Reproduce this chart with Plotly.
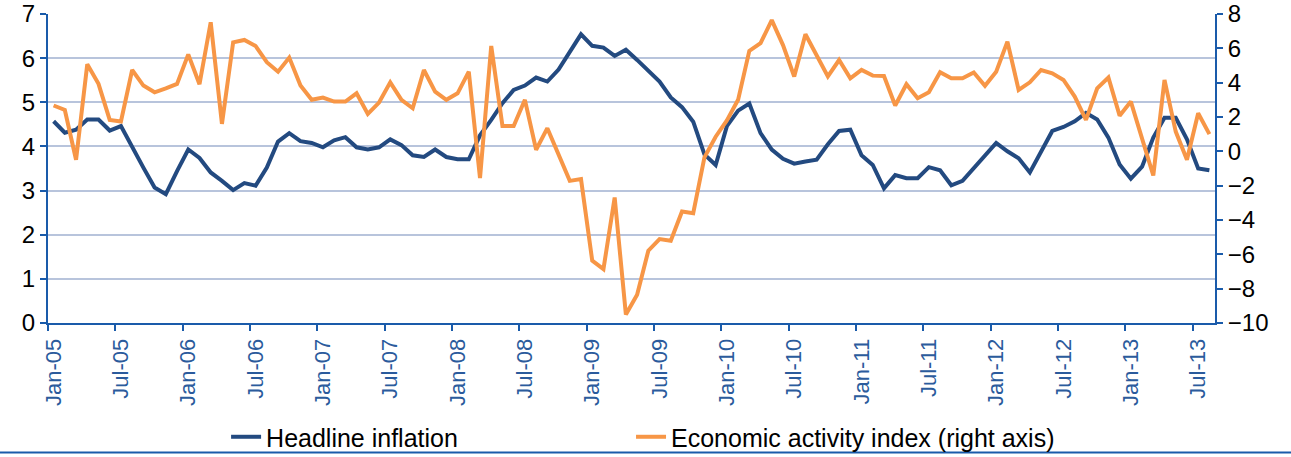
import plotly.graph_objects as go
import pandas as pd

# Monthly categories Jan-05 .. Aug-13
months = list(pd.date_range("2005-01-01", periods=104, freq="MS").strftime("%b-%y"))

headline_inflation = [
    4.57, 4.31, 4.38, 4.61, 4.61, 4.36, 4.46, 3.97, 3.52, 3.07, 2.92, 3.44,
    3.93, 3.74, 3.41, 3.22, 3.01, 3.17, 3.11, 3.52, 4.11, 4.30, 4.12, 4.08,
    3.98, 4.14, 4.21, 3.98, 3.93, 3.98, 4.16, 4.03, 3.80, 3.76, 3.93, 3.76,
    3.71, 3.71, 4.25, 4.60, 4.98, 5.28, 5.38, 5.56, 5.47, 5.74, 6.15, 6.54,
    6.28, 6.24, 6.05, 6.19, 5.96, 5.71, 5.47, 5.11, 4.89, 4.56, 3.82, 3.58,
    4.46, 4.81, 4.97, 4.30, 3.93, 3.72, 3.61, 3.66, 3.70, 4.05, 4.35, 4.38,
    3.80, 3.58, 3.05, 3.35, 3.28, 3.28, 3.53, 3.46, 3.12, 3.22, 3.50, 3.80,
    4.08, 3.89, 3.73, 3.41, 3.89, 4.35, 4.44, 4.57, 4.76, 4.61, 4.20, 3.59,
    3.27, 3.54, 4.20, 4.65, 4.65, 4.16, 3.50, 3.46,
]

economic_activity = [
    2.67, 2.41, -0.49, 5.07, 3.93, 1.83, 1.74, 4.74, 3.83, 3.44, 3.67, 3.93,
    5.65, 3.91, 7.52, 1.60, 6.35, 6.49, 6.14, 5.19, 4.64, 5.46, 3.83, 3.00,
    3.13, 2.90, 2.90, 3.38, 2.18, 2.84, 4.02, 3.00, 2.51, 4.74, 3.48, 3.00,
    3.38, 4.64, -1.56, 6.14, 1.48, 1.48, 3.00, 0.09, 1.35, -0.20, -1.72, -1.62,
    -6.37, -6.86, -2.69, -9.51, -8.35, -5.79, -5.11, -5.21, -3.50, -3.60, -0.35, 0.85,
    1.80, 3.00, 5.85, 6.30, 7.64, 6.19, 4.36, 6.82, 5.60, 4.36, 5.32, 4.25,
    4.74, 4.41, 4.39, 2.67, 3.91, 3.09, 3.44, 4.61, 4.26, 4.26, 4.59, 3.82,
    4.64, 6.39, 3.58, 4.02, 4.74, 4.55, 4.16, 3.19, 1.83, 3.67, 4.30, 2.08,
    2.90, 0.77, -1.41, 4.16, 1.15, -0.49, 2.22, 1.00,
]

tick_labels = ["Jan-05", "Jul-05", "Jan-06", "Jul-06", "Jan-07", "Jul-07",
               "Jan-08", "Jul-08", "Jan-09", "Jul-09", "Jan-10", "Jul-10",
               "Jan-11", "Jul-11", "Jan-12", "Jul-12", "Jan-13", "Jul-13"]

idx = list(range(len(months)))
label_pos = [months.index(t) for t in tick_labels]
boundary_pos = [p - 0.5 for p in label_pos]

NAVY = "#234A80"
ORANGE = "#F79646"
AXIS = "#1A5BAA"
GRID = "#B8C4DC"
FONT = "Liberation Sans, Arial, sans-serif"

fig = go.Figure()
fig.add_trace(go.Scatter(
    x=idx, y=headline_inflation, mode="lines", name="Headline inflation",
    line=dict(color=NAVY, width=4), customdata=months, legend="legend",
    hovertemplate="%{customdata}: %{y}<extra></extra>",
))
fig.add_trace(go.Scatter(
    x=idx, y=economic_activity, mode="lines", name="Economic activity index (right axis)",
    line=dict(color=ORANGE, width=4), yaxis="y2", customdata=months, legend="legend2",
    hovertemplate="%{customdata}: %{y}<extra></extra>",
))

xr = [-0.5, len(months) - 0.5]
legend_common = dict(
    orientation="h", xanchor="left", y=-0.369, yanchor="middle",
    font=dict(size=25, color="black", family=FONT), bgcolor="rgba(0,0,0,0)",
)
fig.update_layout(
    width=1291, height=457,
    margin=dict(l=48, r=76, t=14, b=134, autoexpand=False),
    paper_bgcolor="white", plot_bgcolor="white",
    font=dict(family=FONT, color="black"),
    showlegend=True,
    legend=dict(x=0.1526, **legend_common),
    legend2=dict(x=0.4996, **legend_common),
    xaxis=dict(
        range=xr, tickmode="array", tickvals=boundary_pos, showticklabels=False,
        ticks="outside", ticklen=6, tickwidth=2, tickcolor=AXIS,
        showline=True, linecolor=AXIS, linewidth=2, showgrid=False, zeroline=False,
        automargin=False,
    ),
    xaxis2=dict(
        overlaying="x", anchor="y", side="bottom", range=xr,
        tickmode="array", tickvals=label_pos, ticktext=tick_labels, tickangle=-90,
        ticks="outside", ticklen=6, tickcolor="rgba(0,0,0,0)",
        tickfont=dict(size=22, color="#2B5B9C", family=FONT),
        showline=False, showgrid=False, zeroline=False, automargin=False,
    ),
    yaxis=dict(
        range=[0, 7], dtick=1, tick0=0, showgrid=True, gridcolor=GRID, gridwidth=2,
        showline=True, linecolor=AXIS, linewidth=2, ticks="outside", ticklen=6,
        tickwidth=2, tickcolor=AXIS, tickfont=dict(size=24, color="black"),
        zeroline=False, automargin=False,
    ),
    yaxis2=dict(
        range=[-10, 8], dtick=2, tick0=-10, overlaying="y", side="right",
        showgrid=False, showline=True, linecolor=AXIS, linewidth=2,
        ticks="outside", ticklen=6, tickwidth=2, tickcolor=AXIS,
        tickfont=dict(size=24, color="black"), zeroline=False, automargin=False,
    ),
    shapes=[dict(
        type="line", xref="paper", yref="paper",
        x0=-48 / 1167, x1=1243 / 1167, y0=-0.419, y1=-0.419,
        line=dict(color=AXIS, width=2),
    )],
)

# attach the label axis to a transparent copy of the first series
fig.add_trace(go.Scatter(
    x=idx, y=headline_inflation, xaxis="x2", mode="lines", showlegend=False,
    line=dict(color="rgba(0,0,0,0)", width=0), hoverinfo="skip",
))

fig.write_html(
    "out.html",
    config={"displayModeBar": False},
    post_script="document.body.style.margin='0';document.body.style.overflow='hidden';",
)
